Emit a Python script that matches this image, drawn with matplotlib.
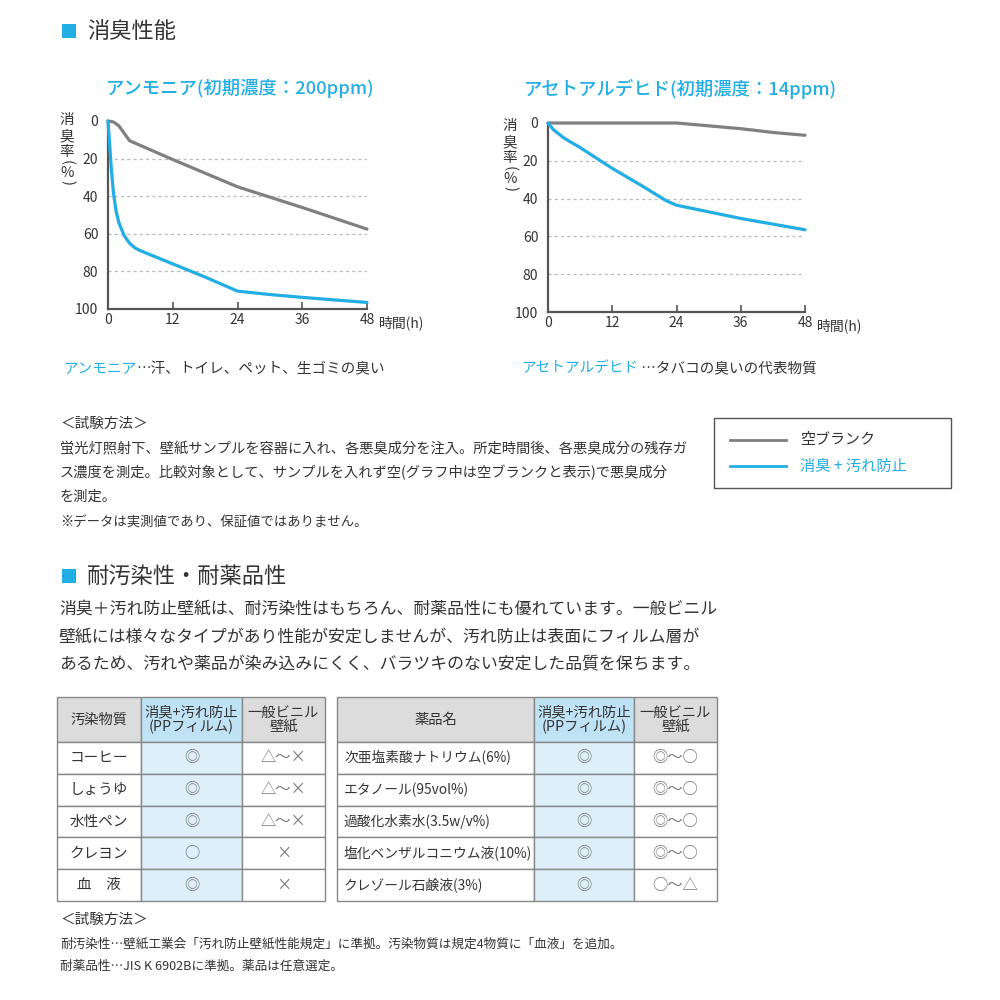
import numpy as np
import matplotlib
matplotlib.use("Agg")
import matplotlib.pyplot as plt
from matplotlib.patches import Rectangle

plt.rcParams['font.family'] = ['Noto Sans CJK JP', 'DejaVu Sans']

BLUE = '#22aee5'
GRAY = '#808080'
DARK = '#333333'

# --- chart data ---
hours = [0, 12, 24, 36, 48]
rate_ticks = [0, 20, 40, 60, 80, 100]

ammonia_blank_t = [0, 1, 2, 3, 4, 6, 12, 24, 36, 48]
ammonia_blank_v = [0, 0.5, 2.5, 6.5, 10.5, 13, 20.5, 35, 46, 57.5]
ammonia_pp_t = [0, 0.3, 0.6, 1, 1.5, 2, 3, 4, 5, 6, 12, 18, 24, 30, 36, 42, 48]
ammonia_pp_v = [0, 12, 25, 38, 48, 54, 61, 65, 67.5, 69, 76, 83, 90.5, 92.3, 93.8, 95.2, 96.5]

acet_blank_t = [0, 12, 24, 30, 36, 42, 48]
acet_blank_v = [0, 0, 0, 1.5, 3, 5, 6.5]
acet_pp_t = [0, 1, 3, 6, 12, 18, 22, 24, 30, 36, 42, 48]
acet_pp_v = [0, 3.5, 8, 13, 24, 34, 41, 43.5, 47, 50.5, 53.5, 56.5]

# --- table data ---
stain_items = ["コーヒー", "しょうゆ", "水性ペン", "クレヨン", "血　液"]
stain_pp = ["◎", "◎", "◎", "○", "◎"]
stain_vinyl = ["△～×", "△～×", "△～×", "×", "×"]

chem_items = ["次亜塩素酸ナトリウム(6%)", "エタノール(95vol%)", "過酸化水素水(3.5w/v%)",
              "塩化ベンザルコニウム液(10%)", "クレゾール石鹸液(3%)"]
chem_pp = ["◎", "◎", "◎", "◎", "◎"]
chem_vinyl = ["◎～○", "◎～○", "◎～○", "◎～○", "○～△"]

fig = plt.figure(figsize=(10, 10), dpi=100)
bg = fig.add_axes([0, 0, 1, 1])
bg.set_xlim(0, 1000)
bg.set_ylim(1000, 0)
bg.axis('off')


def text_runs(x, y, runs, size):
    """draw several coloured pieces of text one after another"""
    r = fig.canvas.get_renderer()
    for s, c in runs:
        t = bg.text(x, y, s, fontsize=size, color=c, va='center', ha='left')
        bb = t.get_window_extent(renderer=r)
        x += bb.width * 1000 / fig.bbox.width


def header(y, label):
    bg.add_patch(Rectangle((62, y - 7), 14, 14, color=BLUE, lw=0))
    bg.text(87, y, label, fontsize=16, color=DARK, va='center')


header(31, "消臭性能")
header(576, "耐汚染性・耐薬品性")


def chart(pos, title, tx, lx, ly, blank_t, blank_v, pp_t, pp_v):
    ax = fig.add_axes(pos)
    ax.plot(blank_t, blank_v, color=GRAY, lw=2.3, clip_on=False,
            solid_joinstyle='round', solid_capstyle='round', zorder=3)
    ax.plot(pp_t, pp_v, color=BLUE, lw=2.3, clip_on=False,
            solid_joinstyle='round', solid_capstyle='round', zorder=4)
    ax.set_xlim(0, 48)
    ax.set_ylim(100, 0)
    ax.set_xticks(hours)
    ax.set_yticks(rate_ticks)
    for v in rate_ticks[1:-1]:
        ax.axhline(v, color='#bbbbbb', lw=0.9, ls=(0, (2.5, 2.5)), zorder=1)
    for s in ['top', 'right']:
        ax.spines[s].set_visible(False)
    for s in ['left', 'bottom']:
        ax.spines[s].set_color('#555555')
        ax.spines[s].set_linewidth(1.6)
    ax.tick_params(axis='x', direction='in', length=5, width=1.2, color='#555555',
                   labelsize=10, labelcolor=DARK, pad=3)
    ax.tick_params(axis='y', length=0, labelsize=10, labelcolor=DARK, pad=7)
    ax.set_facecolor('none')
    ax.text(1.045, -0.075, "時間(h)", transform=ax.transAxes, fontsize=10,
            color=DARK, va='center', ha='left')
    # vertical axis label 消臭率(%)
    for ch, dy, rot in [("消", 0, 0), ("臭", 16, 0), ("率", 32, 0),
                        ("(", 43, -90), ("%", 53, 0), (")", 63, -90)]:
        bg.text(lx, ly + dy, ch, fontsize=10.5, color=DARK, ha='center',
                va='center', rotation=rot)
    bg.text(tx, 89, title, fontsize=13.2, color=BLUE, va='center', ha='center',
            fontweight='medium')
    return ax


chart([0.108, 0.691, 0.259, 0.188], "アンモニア(初期濃度：200ppm)", 240, 67, 120,
      ammonia_blank_t, ammonia_blank_v, ammonia_pp_t, ammonia_pp_v)
chart([0.548, 0.688, 0.257, 0.189], "アセトアルデヒド(初期濃度：14ppm)", 680, 510, 126,
      acet_blank_t, acet_blank_v, acet_pp_t, acet_pp_v)

text_runs(63, 369, [("アンモニア", BLUE), ("…汗、トイレ、ペット、生ゴミの臭い", DARK)], 10.5)
text_runs(521, 368, [("アセトアルデヒド", BLUE), (" …タバコの臭いの代表物質", DARK)], 10.5)

# test method text
bg.text(60, 424, "＜試験方法＞", fontsize=10.5, color=DARK, va='center')
method_lines = ["蛍光灯照射下、壁紙サンプルを容器に入れ、各悪臭成分を注入。所定時間後、各悪臭成分の残存ガ",
                "ス濃度を測定。比較対象として、サンプルを入れず空(グラフ中は空ブランクと表示)で悪臭成分",
                "を測定。"]
for i, s in enumerate(method_lines):
    bg.text(60, 449 + 24 * i, s, fontsize=10.25, color=DARK, va='center')
bg.text(60, 523, "※データは実測値であり、保証値ではありません。", fontsize=9.6, color=DARK, va='center')

# legend box
bg.add_patch(Rectangle((714, 418), 237, 70, fill=False, ec='#555555', lw=1))
bg.plot([730, 786], [440, 440], color=GRAY, lw=2)
bg.plot([730, 786], [466, 466], color=BLUE, lw=2)
bg.text(800, 440, "空ブランク", fontsize=10.8, color=DARK, va='center')
bg.text(800, 466, "消臭 + 汚れ防止", fontsize=11, color=BLUE, va='center')

# paragraph
para = ["消臭＋汚れ防止壁紙は、耐汚染性はもちろん、耐薬品性にも優れています。一般ビニル",
        "壁紙には様々なタイプがあり性能が安定しませんが、汚れ防止は表面にフィルム層が",
        "あるため、汚れや薬品が染み込みにくく、バラツキのない安定した品質を保ちます。"]
for i, s in enumerate(para):
    bg.text(59, 609 + 27.5 * i, s, fontsize=12.15, color=DARK, va='center')


def table(xs, items, pp, vinyl, first_head, left_align):
    y0, yh = 697, 742
    rows = [yh + (901 - yh) / 5 * i for i in range(6)]
    # header cells
    heads = [first_head, "消臭+汚れ防止\n(PPフィルム)", "一般ビニル\n壁紙"]
    fills = ['#dcdcdc', '#bfe3f5', '#dcdcdc']
    for j in range(3):
        bg.add_patch(Rectangle((xs[j], y0), xs[j + 1] - xs[j], yh - y0,
                               fc=fills[j], ec='#888888', lw=1))
        bg.text((xs[j] + xs[j + 1]) / 2, (y0 + yh) / 2, heads[j], fontsize=10.3,
                color=DARK, ha='center', va='center', linespacing=1.0)
    for i in range(5):
        ya, yb = rows[i], rows[i + 1]
        for j, fc in enumerate(['white', '#ddf0fa', 'white']):
            bg.add_patch(Rectangle((xs[j], ya), xs[j + 1] - xs[j], yb - ya,
                                   fc=fc, ec='#888888', lw=1))
        ym = (ya + yb) / 2
        if left_align:
            bg.text(xs[0] + 7, ym, items[i], fontsize=9.9, color=DARK, va='center')
        else:
            bg.text((xs[0] + xs[1]) / 2, ym, items[i], fontsize=10.5, color=DARK,
                    va='center', ha='center')
        bg.text((xs[1] + xs[2]) / 2, ym, pp[i], fontsize=11, color='#777777',
                va='center', ha='center')
        bg.text((xs[2] + xs[3]) / 2, ym, vinyl[i], fontsize=11, color='#777777',
                va='center', ha='center')


table([57, 141, 242, 325], stain_items, stain_pp, stain_vinyl, "汚染物質", False)
table([337, 534, 634, 717], chem_items, chem_pp, chem_vinyl, "薬品名", True)

bg.text(60, 920, "＜試験方法＞", fontsize=10.5, color=DARK, va='center')
bg.text(60, 944, "耐汚染性…壁紙工業会「汚れ防止壁紙性能規定」に準拠。汚染物質は規定4物質に「血液」を追加。",
        fontsize=9.1, color=DARK, va='center')
bg.text(60, 966, "耐薬品性…JIS K 6902Bに準拠。薬品は任意選定。", fontsize=9.1, color=DARK, va='center')

fig.savefig("out.png", dpi=100)
